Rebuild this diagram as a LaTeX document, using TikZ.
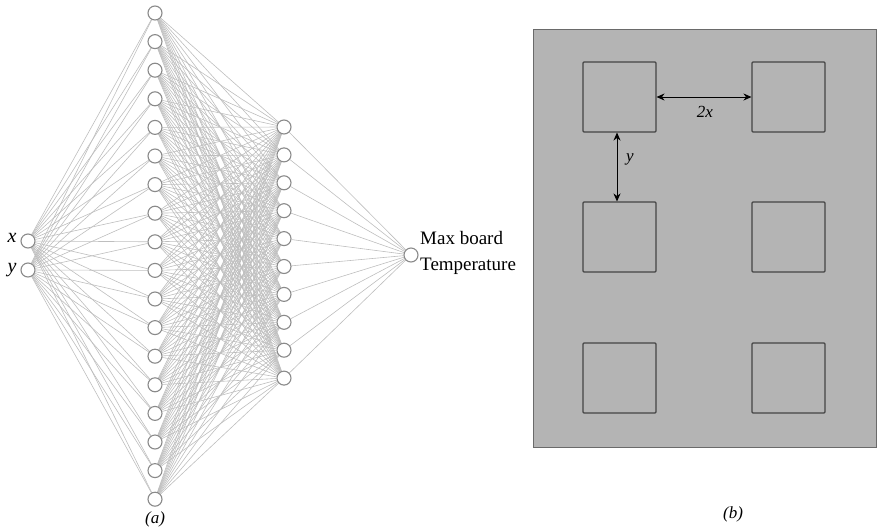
\documentclass[tikz,border=0pt]{standalone}
\usepackage{fontspec}
\setmainfont{Liberation Serif}
\usetikzlibrary{arrows.meta}
\pgfdeclarelayer{bg}
\pgfsetlayers{bg,main}
\definecolor{nodeline}{HTML}{8A8A8A}
\definecolor{edgecol}{HTML}{BEBEBE}
\definecolor{boardfill}{HTML}{B4B4B4}
\definecolor{boardedge}{HTML}{6A6A6A}
\definecolor{chipline}{HTML}{454545}
\begin{document}
\begin{tikzpicture}[x=1pt,y=-1pt,
  neuron/.style={circle,draw=nodeline,fill=white,line width=1.1pt,minimum size=14pt,inner sep=0pt},
  edge/.style={draw=edgecol,line width=0.6pt},
  chip/.style={draw=chipline,line width=1.1pt,minimum width=73pt,minimum height=70pt,inner sep=0pt,rounded corners=1pt},
  dim/.style={{Stealth[length=8pt,width=7pt]}-{Stealth[length=8pt,width=7pt]},line width=0.8pt,draw=black},
  lab/.style={font=\fontsize{20}{24}\selectfont\itshape,inner sep=0pt},
  slab/.style={font=\fontsize{17}{20}\selectfont\itshape,inner sep=0pt}
]
\useasboundingbox (0,0) rectangle (878,531);

% network nodes
\node[neuron] (in1) at (28,241) {};
\node[neuron] (in2) at (28,270) {};
\foreach \i in {1,...,18} \node[neuron] (h1-\i) at (155,{13+28.6*(\i-1)}) {};
\foreach \i in {1,...,10} \node[neuron] (h2-\i) at (284,{127+27.9*(\i-1)}) {};
\node[neuron] (out) at (411,255) {};

\begin{pgfonlayer}{bg}
\foreach \a in {1,2} \foreach \b in {1,...,18} \draw[edge] (in\a) -- (h1-\b);
\foreach \a in {1,...,18} \foreach \b in {1,...,10} \draw[edge] (h1-\a) -- (h2-\b);
\foreach \b in {1,...,10} \draw[edge] (h2-\b) -- (out);
\end{pgfonlayer}

\node[lab] (lx) at (12,238) {x};
\node[lab] (ly) at (12,270) {y};
\node[anchor=west,align=left,font=\fontsize{19}{26}\selectfont,inner sep=0pt] (olab) at (420,253) {Max board\\Temperature};
\node[slab] (la) at (155,519) {(a)};

% board
\draw[draw=boardedge,fill=boardfill,line width=1pt] (533,29) rectangle (876,447);
\node[chip] (s11) at (619.5,97) {};
\node[chip] (s12) at (788.5,97) {};
\node[chip] (s21) at (619.5,237) {};
\node[chip] (s22) at (788.5,237) {};
\node[chip] (s31) at (619.5,378) {};
\node[chip] (s32) at (788.5,378) {};
\draw[dim] (s11.east) -- (s12.west);
\draw[dim] ([xshift=-2.5pt]s11.south) -- ([xshift=-2.5pt]s21.north);
\node[slab] (l2x) at (705,112) {2x};
\node[slab] (lyb) at (630,159) {y};
\node[slab] (lb) at (733,514) {(b)};
\end{tikzpicture}
\end{document}
